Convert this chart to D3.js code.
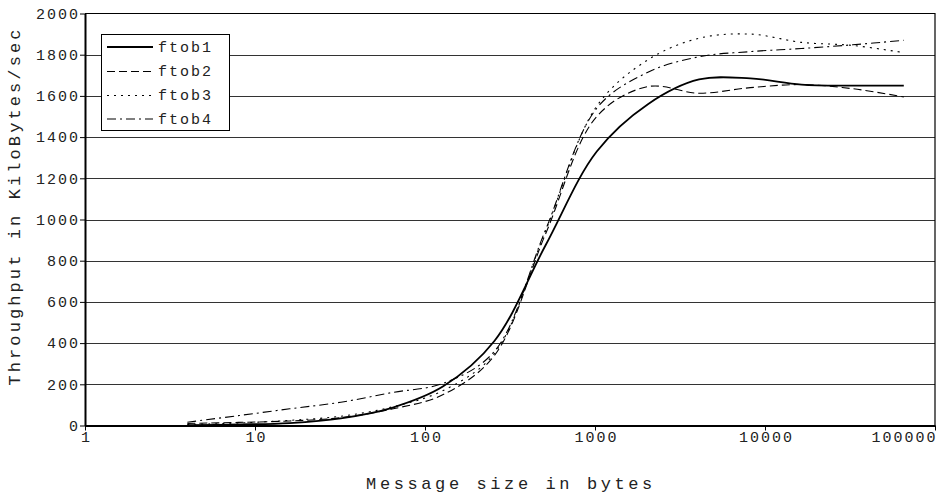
<!DOCTYPE html>
<html>
<head>
<meta charset="utf-8">
<script src="https://cdn.jsdelivr.net/npm/d3@7"></script>
<style>
html,body{margin:0;padding:0;background:#fff;}
svg{display:block;font-family:"Liberation Mono","DejaVu Sans Mono",monospace;}
</style>
</head>
<body>
<svg id="chart" width="952" height="495"></svg>
<script>
const sizes = [4, 8, 16, 32, 64, 128, 256, 512, 1024, 2048, 4096, 8192, 16384, 32768, 65536];
const ftob1 = [2, 5, 12, 35, 86, 190, 410, 875, 1330, 1560, 1680, 1685, 1655, 1650, 1650];
const ftob2 = [10, 15, 22, 38, 80, 150, 340, 930, 1500, 1645, 1613, 1640, 1655, 1635, 1595];
const ftob3 = [5, 12, 25, 45, 90, 170, 350, 945, 1550, 1775, 1880, 1900, 1860, 1845, 1810];
const ftob4 = [16, 48, 81, 113, 160, 205, 360, 950, 1540, 1715, 1790, 1815, 1830, 1848, 1870];
const seriesNames = ["ftob1", "ftob2", "ftob3", "ftob4"];
const xTicks = [1, 10, 100, 1000, 10000, 100000];
const yTicks = [0, 200, 400, 600, 800, 1000, 1200, 1400, 1600, 1800, 2000];
const xTitle = "Message size in bytes";
const yTitle = "Throughput in KiloBytes/sec";

const series = [ftob1, ftob2, ftob3, ftob4];
const styles = [
  {w: 1.8, dash: null},
  {w: 1.1, dash: "8,4"},
  {w: 1.1, dash: "2,5"},
  {w: 1.1, dash: "9,4,2,4"}
];

const svg = d3.select("#chart");
const L = 85, R = 935, T = 13.5, B = 425.5;
const x = d3.scaleLog().domain([1, 100000]).range([L, R]);
const y = d3.scaleLinear().domain([0, 2000]).range([B, T]);

// gridlines
svg.append("g").selectAll("line")
  .data(yTicks.filter(d => d > 0 && d < 2000))
  .join("line")
  .attr("x1", L).attr("x2", R)
  .attr("y1", d => Math.round(y(d)) + 0.5).attr("y2", d => Math.round(y(d)) + 0.5)
  .attr("stroke", "#333").attr("stroke-width", 1);

// frame top/right
svg.append("path")
  .attr("d", `M${L},${T}H${R}V${B}`)
  .attr("fill", "none").attr("stroke", "#000").attr("stroke-width", 1.2);

// series lines
const line = d3.line()
  .x((d, i) => x(sizes[i]))
  .y(d => y(d))
  .curve(d3.curveCatmullRom.alpha(0.5));

svg.append("g").selectAll("path")
  .data(series)
  .join("path")
  .attr("d", d => line(d))
  .attr("fill", "none")
  .attr("stroke", "#000")
  .attr("stroke-width", (d, i) => styles[i].w)
  .attr("stroke-dasharray", (d, i) => styles[i].dash);

// axes
const yAxis = d3.axisLeft(y).tickValues(yTicks).tickSize(5).tickSizeOuter(0).tickPadding(0).tickFormat(d => d);
const gy = svg.append("g").attr("transform", `translate(${L},0)`).call(yAxis);
gy.select(".domain").attr("stroke", "#000").attr("stroke-width", 2);
gy.selectAll(".tick line").attr("stroke", "#000");
gy.selectAll("text").attr("font-size", 15).attr("fill", "#222")
  .attr("letter-spacing", 2).attr("font-family", "Liberation Mono");

const xAxis = d3.axisBottom(x).tickValues(xTicks).tickSize(5).tickSizeOuter(0).tickFormat(d => d);
const gx = svg.append("g").attr("transform", `translate(0,${B})`).call(xAxis);
gx.select(".domain").attr("stroke", "#000").attr("stroke-width", 2);
gx.selectAll(".tick line").attr("stroke", "#000");
gx.selectAll("text").attr("font-size", 15).attr("fill", "#222")
  .attr("letter-spacing", 2).attr("font-family", "Liberation Mono")
  .attr("y", 12).attr("dy", "0.32em").attr("dx", 1);
gx.selectAll(".tick").filter(d => d === 100000).select("text")
  .attr("text-anchor", "end").attr("dx", 2);

// titles
svg.append("text")
  .attr("x", 511).attr("y", 484).attr("dy", "0.32em")
  .attr("text-anchor", "middle")
  .attr("font-size", 17).attr("letter-spacing", 3.6).attr("fill", "#222")
  .text(xTitle);

svg.append("text")
  .attr("transform", "translate(15,206) rotate(-90)")
  .attr("dy", "0.32em")
  .attr("text-anchor", "middle")
  .attr("font-size", 17).attr("letter-spacing", 3.1).attr("fill", "#222")
  .text(yTitle);

// legend
const lg = svg.append("g");
lg.append("rect").attr("x", 101.5).attr("y", 34.5).attr("width", 128).attr("height", 96)
  .attr("fill", "#fff").attr("stroke", "#000").attr("stroke-width", 1);
const rowsY = [47, 71.5, 95.5, 119];
seriesNames.forEach((name, i) => {
  lg.append("line").attr("x1", 107).attr("x2", 153).attr("y1", rowsY[i]).attr("y2", rowsY[i])
    .attr("stroke", "#000").attr("stroke-width", styles[i].w)
    .attr("stroke-dasharray", styles[i].dash);
  lg.append("text").attr("x", 158).attr("y", rowsY[i]).attr("dy", "0.32em")
    .attr("font-size", 15).attr("letter-spacing", 2).attr("fill", "#222")
    .text(name);
});
</script>
</body>
</html>
